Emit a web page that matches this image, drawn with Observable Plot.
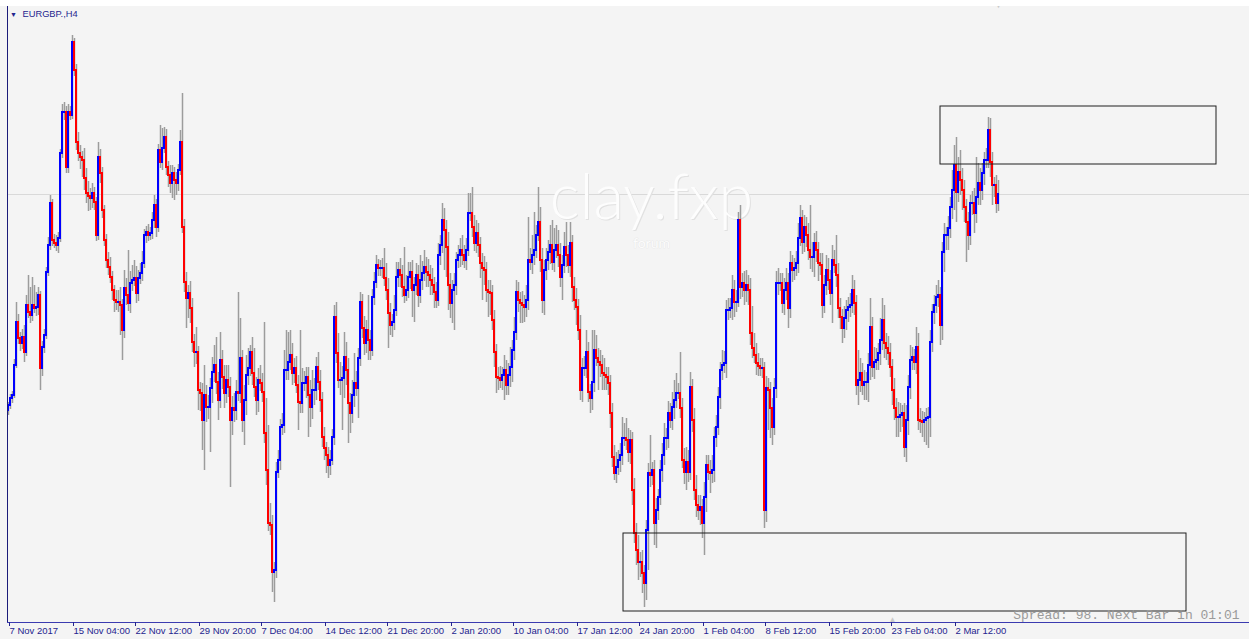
<!DOCTYPE html>
<html>
<head>
<meta charset="utf-8">
<script src="https://cdn.jsdelivr.net/npm/d3@7"></script>
<script src="https://cdn.jsdelivr.net/npm/@observablehq/plot@0.6"></script>
<style>
html,body{margin:0;padding:0;background:#f4f4f4;overflow:hidden}
#wrap{position:relative;width:1249px;height:639px}
#topband{position:absolute;left:0;top:0;width:1249px;height:6px;background:#ffffff}
</style>
</head>
<body>
<div id="wrap"><div id="chart"></div><div id="topband"></div></div>
<script>
// ---------------- data ----------------
const symbolTitle = "EURGBP.,H4";
const spreadText = "Spread: 98. Next Bar in 01:01";
const watermark = "clay.fxp";
const watermarkSub = "forum";

const tickLabels = ["7 Nov 2017","15 Nov 04:00","22 Nov 12:00","29 Nov 20:00","7 Dec 04:00","14 Dec 12:00","21 Dec 20:00","2 Jan 20:00","10 Jan 04:00","17 Jan 12:00","24 Jan 20:00","1 Feb 04:00","8 Feb 12:00","15 Feb 20:00","23 Feb 04:00","2 Mar 12:00"];
const tickBars = [0,32,63,95,126,158,189,221,252,284,315,347,378,410,441,473];

// price levels (relative units, 1 unit = 0.6 pip above 0.8650), H4 bars
const firstOpenLvl = 230;
const closeLvl = [
235,242,245,275,318,302,297,303,288,335,
328,325,335,332,333,345,272,293,305,368,
395,437,400,397,395,402,487,528,528,473,
528,525,598,570,498,487,483,480,462,447,
444,442,447,438,405,483,467,430,400,380,
373,363,350,340,338,338,335,310,352,345,
337,357,360,362,347,362,367,377,405,408,
405,407,420,435,413,490,478,492,503,473,
465,457,467,460,457,470,498,413,358,342,
347,332,298,288,288,250,247,220,245,233,
233,252,268,275,258,240,280,263,247,260,
253,220,232,230,248,247,282,220,240,265,
272,288,267,253,240,260,257,248,207,170,
117,115,68,70,168,180,213,215,270,270,
278,285,267,272,255,238,237,257,257,263,
245,233,250,250,273,258,240,203,192,185,
175,180,203,323,287,260,260,262,283,270,
237,227,245,257,252,282,338,312,297,310,
300,290,343,358,375,372,372,372,362,350,
327,315,318,330,363,370,365,353,345,350,
363,368,350,355,365,345,360,367,373,368,
365,360,355,348,340,385,395,420,410,393,
355,337,350,355,380,385,390,385,380,390,
427,427,413,397,407,395,377,372,370,350,
348,347,320,288,263,262,260,265,270,255,
265,273,290,308,348,340,337,335,333,340,
380,378,385,390,405,418,380,340,370,380,
388,395,378,390,395,385,363,375,393,385,
375,397,353,340,333,310,250,272,272,288,
248,242,258,290,282,278,275,267,265,263,
257,227,183,167,173,180,185,202,202,200,
188,200,150,107,90,78,78,67,57,110,
167,165,170,117,130,143,170,185,202,202,
227,220,233,240,247,247,232,180,168,178,
168,253,220,150,135,130,133,117,143,175,
168,167,170,203,213,243,270,275,277,330,
330,332,350,338,338,420,353,357,350,355,
350,307,292,285,277,274,272,272,130,252,
250,232,213,252,357,357,357,337,350,357,
332,377,370,372,377,402,422,398,413,405,
390,383,383,397,390,377,375,335,355,370,
360,347,380,375,365,332,323,312,322,330,
333,335,350,337,255,260,267,255,258,258,
275,313,273,278,280,287,300,320,297,292,
287,273,250,232,223,223,225,227,193,220,
253,280,283,278,293,220,219,218,220,222,
223,298,328,335,343,345,315,388,405,405,
412,433,450,475,448,468,460,450,433,418,
405,437,437,427,443,457,450,467,480,480,
510,478,455,455,437,446
];
const upperShadow = [
3,4,4,6,20,8,6,8,12,10,
30,25,28,20,15,8,4,6,6,5,
8,8,4,6,8,6,4,8,10,6,
8,6,7,4,6,10,8,6,12,10,
12,8,10,6,5,15,8,6,5,6,
8,10,6,5,10,12,15,6,18,10,
45,12,15,18,12,8,10,12,6,6,
8,6,8,10,6,6,25,20,10,8,
6,10,8,6,8,6,12,49,8,10,
8,12,10,8,25,6,8,10,30,10,
12,10,15,20,28,10,28,10,12,15,
15,10,12,15,12,100,40,8,15,20,
20,7,15,25,10,12,15,10,70,35,
45,20,10,8,10,10,8,12,20,40,
30,25,12,10,12,10,72,15,12,10,
10,15,20,12,10,15,12,8,10,6,
8,10,8,12,15,20,18,12,25,15,
12,10,15,30,12,10,10,8,12,10,
35,10,8,10,10,6,8,10,20,15,
12,10,8,15,15,8,12,10,40,15,
15,10,12,8,12,10,25,12,17,10,
13,10,12,8,10,12,10,17,12,10,
15,12,10,12,8,10,12,15,10,12,
20,20,26,12,13,10,8,10,12,8,
10,12,8,10,8,10,12,8,15,10,
12,20,10,15,12,10,8,12,10,15,
43,12,20,38,10,35,15,12,10,12,
12,20,25,22,20,15,12,10,15,25,
10,21,8,10,12,8,15,10,12,22,
10,8,52,20,15,10,12,10,15,8,
10,8,10,12,15,10,12,21,15,20,
12,10,8,12,10,15,10,12,8,10,
10,38,8,10,12,8,10,12,15,10,
12,10,15,20,20,10,41,10,12,15,
12,15,8,12,15,10,12,8,15,10,
10,12,15,10,12,10,8,15,12,10,
12,10,15,10,12,8,15,10,12,15,
10,12,27,15,12,10,8,10,6,12,
10,8,10,10,12,15,10,10,12,15,
10,12,8,10,12,15,13,8,12,10,
12,45,15,10,12,8,10,12,10,15,
12,10,15,10,30,12,10,8,12,10,
10,12,15,10,8,30,15,10,12,10,
12,29,10,15,12,10,22,22,15,10,
12,10,8,12,10,15,12,8,10,15,
12,15,10,8,20,14,12,10,8,10,
10,12,8,10,12,15,8,10,12,8,
12,10,20,20,28,15,22,12,10,8,
10,8,12,15,40,20,15,10,8,12,
13,12,10,8,10,14
];
const lowerShadow = [
5,4,5,3,3,6,8,6,10,4,
6,8,6,5,8,8,22,8,6,4,
4,5,6,5,6,8,4,5,8,6,
6,5,4,6,8,8,12,17,12,10,
15,12,10,8,6,5,10,8,6,8,
8,6,10,12,8,10,30,30,8,10,
8,10,8,6,10,8,6,8,5,8,
6,5,6,8,10,5,6,8,5,8,
12,10,15,20,12,8,5,6,10,30,
20,15,10,15,12,20,18,30,50,15,
12,45,15,10,12,20,8,12,15,10,
10,67,15,12,10,8,10,12,25,15,
10,8,12,10,15,12,8,10,10,15,
8,10,20,30,8,6,10,8,8,10,
10,8,12,10,8,28,10,10,8,15,
42,20,12,15,10,8,12,10,12,18,
13,10,5,8,10,8,15,50,20,15,
40,20,10,12,8,30,8,10,12,10,
20,10,6,8,6,8,8,10,8,10,
35,10,12,8,6,10,12,10,8,6,
8,12,27,32,10,12,8,10,8,15,
12,15,10,16,8,6,10,8,40,30,
25,15,20,40,10,8,12,10,8,10,
6,8,10,8,10,12,15,32,15,12,
25,22,10,15,16,12,8,10,25,10,
10,12,15,10,8,12,20,18,15,10,
10,8,12,10,8,6,12,13,15,10,
10,12,8,10,8,12,10,23,8,12,
8,12,15,10,18,10,10,12,8,10,
10,15,12,10,8,28,12,17,15,13,
12,15,10,7,10,8,12,10,8,10,
10,12,15,10,15,18,15,20,24,17,
40,12,10,22,25,10,8,12,10,12,
10,8,10,12,8,6,10,8,12,18,
10,8,12,10,12,10,15,15,32,15,
8,20,10,12,10,8,12,10,8,15,
10,8,12,15,10,5,12,10,15,12,
15,12,10,8,12,10,8,10,18,12,
40,30,18,8,10,12,8,10,12,10,
20,10,12,10,8,10,8,12,10,12,
10,12,15,20,12,18,10,13,8,10,
10,12,30,8,12,10,12,15,10,12,
12,10,8,12,10,20,12,10,15,18,
20,15,10,12,8,10,12,10,15,12,
12,10,15,12,20,20,15,12,10,15,
15,12,10,8,12,10,12,15,20,25,
30,20,10,12,8,10,20,15,20,15,
15,10,12,20,30,10,15,20,15,40,
15,10,12,20,10,8,15,10,12,8,
8,15,20,12,10,8
];
// drawn rectangle objects: bar index range and price-level range
const zoneFromBar = [466, 307.5];
const zoneToBar   = [604, 589];
const zoneLowLvl  = [476, 29];
const zoneHighLvl = [534, 107];
const shiftMarkBar = 442;

// ---------------- build ----------------
const BASE = 0.8650, UNIT = 0.00006;
const toPrice = v => +(BASE + v * UNIT).toFixed(5);

const bars = closeLvl.map((c, i) => {
  const o = i ? closeLvl[i - 1] : firstOpenLvl;
  return {
    i,
    open: toPrice(o),
    close: toPrice(c),
    high: toPrice(Math.max(o, c) + upperShadow[i]),
    low: toPrice(Math.min(o, c) - lowerShadow[i]),
    color: c >= o ? "#0000ff" : "#ff0000"
  };
});
const last = bars[bars.length - 1];
const zones = zoneFromBar.map((b, k) => ({
  b1: b, b2: zoneToBar[k], p1: toPrice(zoneLowLvl[k]), p2: toPrice(zoneHighLvl[k])
}));
const yDomain = [toPrice(18), toPrice(634)];
const navy = "#24248f";

const chart = Plot.plot({
  width: 1249,
  height: 639,
  marginTop: 6,
  marginBottom: 17,
  marginLeft: 7,
  marginRight: 0,
  style: {background: "#f4f4f4", fontFamily: "Liberation Sans, Arial, sans-serif", fontSize: "9.5px"},
  x: {domain: [-0.5, 620.5], range: [7, 1249], axis: null, label: null},
  y: {domain: yDomain, axis: null, label: null},
  marks: [
    // bid line
    Plot.ruleY([last.close], {stroke: "#d9d9d9", strokeWidth: 1}),
    // watermark (embossed)
    Plot.text([watermark], {frameAnchor: "top-left", dx: 645, dy: 193, textAnchor: "middle", lineAnchor: "middle",
      fontFamily: "Lato, sans-serif", fontWeight: 300, fontSize: 63, fill: "#e1e1e1"}),
    Plot.text([watermark], {frameAnchor: "top-left", dx: 644, dy: 192, textAnchor: "middle", lineAnchor: "middle",
      fontFamily: "Lato, sans-serif", fontWeight: 300, fontSize: 63, fill: "#fdfdfd"}),
    Plot.text([watermarkSub], {frameAnchor: "top-left", dx: 644, dy: 237, textAnchor: "middle", lineAnchor: "middle",
      fontFamily: "Lato, sans-serif", fontSize: 14, letterSpacing: 3, fill: "#fcfcfc", stroke: "#e4e4e4", strokeWidth: 0.7}),
    // wicks
    Plot.ruleX(bars, {x: "i", y1: "low", y2: "high", stroke: "#9c9c9c", strokeWidth: 1.5}),
    // bodies
    Plot.ruleX(bars, {x: "i", y1: "open", y2: "close", stroke: "color", strokeWidth: 2, dx: -0.5, strokeLinecap: "square"}),
    // drawn rectangles
    Plot.rect(zones, {x1: "b1", x2: "b2", y1: "p1", y2: "p2", fill: "none", stroke: "#1e1e1e", strokeWidth: 1}),
    // frame lines
    Plot.ruleX([-0.5], {stroke: "#1b1b7a", strokeWidth: 1}),
    Plot.ruleY([yDomain[0]], {stroke: "#3b3bb0", strokeWidth: 1}),
    // x axis
    Plot.axisX(tickBars, {anchor: "bottom", tickSize: 4, tickPadding: 1, textAnchor: "start", dx: 1,
      tickFormat: d => tickLabels[tickBars.indexOf(d)], color: navy, label: null, fontSize: 9.5}),
    // title
    Plot.text(["\u25BC"], {frameAnchor: "top-left", dx: 6, dy: 8, textAnchor: "middle", lineAnchor: "middle", fontSize: 7, fill: navy}),
    Plot.text([symbolTitle], {frameAnchor: "top-left", dx: 15, dy: 8, textAnchor: "start", lineAnchor: "middle", fontSize: 9.3, fill: navy}),
    // shift markers
    Plot.text([last], {x: "i", frameAnchor: "top", dy: -1, text: () => "\u25BC", lineAnchor: "middle", fontSize: 9, fill: "#c9c9c9"}),
    Plot.text([shiftMarkBar], {x: d => d, frameAnchor: "bottom", dy: -3, text: () => "\u25B2", lineAnchor: "middle", fontSize: 8, fill: "#c9c9c9"}),
    // status text
    Plot.text([spreadText], {frameAnchor: "bottom-right", dx: -10, dy: -8, textAnchor: "end", lineAnchor: "middle",
      fontFamily: "Liberation Mono, monospace", fontSize: 13, fill: "#9a9a9a"})
  ]
});
document.getElementById("chart").appendChild(chart);
</script>
</body>
</html>
